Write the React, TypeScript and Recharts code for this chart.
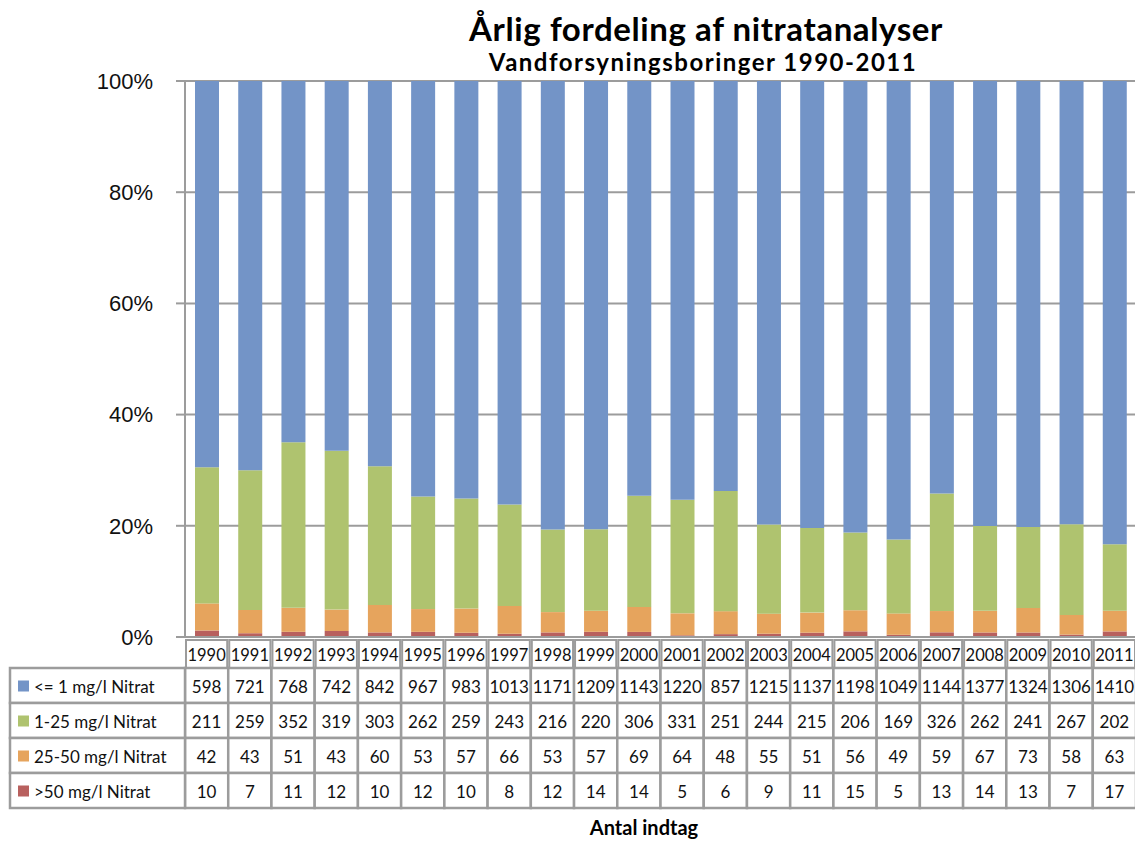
import { BarChart, Bar, XAxis, YAxis, CartesianGrid } from "recharts";

const YEARS = [
  "1990", "1991", "1992", "1993", "1994", "1995", "1996", "1997", "1998", "1999", "2000",
  "2001", "2002", "2003", "2004", "2005", "2006", "2007", "2008", "2009", "2010", "2011",
];
const LE_1 = [598, 721, 768, 742, 842, 967, 983, 1013, 1171, 1209, 1143, 1220, 857, 1215, 1137, 1198, 1049, 1144, 1377, 1324, 1306, 1410];
const R_1_25 = [211, 259, 352, 319, 303, 262, 259, 243, 216, 220, 306, 331, 251, 244, 215, 206, 169, 326, 262, 241, 267, 202];
const R_25_50 = [42, 43, 51, 43, 60, 53, 57, 66, 53, 57, 69, 64, 48, 55, 51, 56, 49, 59, 67, 73, 58, 63];
const GT_50 = [10, 7, 11, 12, 10, 12, 10, 8, 12, 14, 14, 5, 6, 9, 11, 15, 5, 13, 14, 13, 7, 17];
const Y_TICKS = [0, 0.2, 0.4, 0.6, 0.8, 1];

// table row order (top to bottom), stacking order is the reverse
const SERIES = [
  { key: "le1", label: "<= 1 mg/l Nitrat", color: "#7394C7", values: LE_1 },
  { key: "r125", label: "1-25 mg/l Nitrat", color: "#AFC36F", values: R_1_25 },
  { key: "r2550", label: "25-50 mg/l Nitrat", color: "#E6A45D", values: R_25_50 },
  { key: "gt50", label: ">50 mg/l Nitrat", color: "#B8605E", values: GT_50 },
];

const data = YEARS.map((year, i) => {
  const row: Record<string, string | number> = { year };
  SERIES.forEach((s) => (row[s.key] = s.values[i]));
  return row;
});

const W = 1136;
const H = 841;
const PLOT_LEFT = 185;
const PLOT_TOP = 81;
const PLOT_BOTTOM = 637;
const XAXIS_H = 175;
const COL_W = (W - PLOT_LEFT) / YEARS.length;
const YEAR_TOP = 640;
const YEAR_H = 28;
const ROW_TOP = 668;
const ROW_H = 35;
const TABLE_LEFT = 10;
const GRID = "#9c9c9c";
const FONT = "Lato, 'Open Sans', sans-serif";

function TableTick(props: any) {
  const { x, payload } = props;
  const i = payload?.index ?? props.index ?? 0;
  const left = x - COL_W / 2;
  return (
    <g>
      <rect x={left + 1} y={YEAR_TOP} width={COL_W - 2} height={YEAR_H} fill="#fff" stroke={GRID} strokeWidth={2} />
      <text x={x} y={YEAR_TOP + YEAR_H / 2 + 1} textAnchor="middle" dominantBaseline="central" fontSize={16.5} fontFamily={FONT} fill="#111">
        {YEARS[i]}
      </text>
      {SERIES.map((s, r) => (
        <g key={s.key}>
          <rect x={left} y={ROW_TOP + r * ROW_H} width={COL_W} height={ROW_H} fill="#fff" stroke={GRID} strokeWidth={2.5} />
          <text x={x} y={ROW_TOP + r * ROW_H + ROW_H / 2 + 1} textAnchor="middle" dominantBaseline="central" fontSize={17} fontFamily={FONT} fill="#111">
            {s.values[i]}
          </text>
        </g>
      ))}
      {i === 0 &&
        SERIES.map((s, r) => (
          <g key={"lg" + s.key}>
            <rect x={TABLE_LEFT} y={ROW_TOP + r * ROW_H} width={left - TABLE_LEFT} height={ROW_H} fill="#fff" stroke={GRID} strokeWidth={2.5} />
            <rect x={TABLE_LEFT + 8} y={ROW_TOP + r * ROW_H + ROW_H / 2 - 5} width={11} height={11} fill={s.color} />
            <text x={TABLE_LEFT + 24} y={ROW_TOP + r * ROW_H + ROW_H / 2 + 1} dominantBaseline="central" fontSize={17} fontFamily={FONT} fill="#111">
              {s.label}
            </text>
          </g>
        ))}
    </g>
  );
}

export default function App() {
  const stackOrder = [...SERIES].reverse();
  return (
    <div style={{ position: "absolute", left: 0, top: 0, width: 1135, height: H, overflow: "hidden", background: "#fff" }}>
      <div style={{ position: "absolute", left: 356, width: 700, top: 12, textAlign: "center", fontFamily: FONT, fontWeight: 700, fontSize: 33, letterSpacing: 0.6, lineHeight: 1 }}>
        Årlig fordeling af nitratanalyser
      </div>
      <div style={{ position: "absolute", left: 353, width: 700, top: 50, textAlign: "center", fontFamily: FONT, fontWeight: 700, fontSize: 24, letterSpacing: 1.5, lineHeight: 1 }}>
        Vandforsyningsboringer 1990-2011
      </div>
      <BarChart
        width={W}
        height={H}
        data={data}
        stackOffset="expand"
        barSize={24}
        margin={{ top: PLOT_TOP, right: 0, left: 0, bottom: H - PLOT_BOTTOM - XAXIS_H }}
      >
        <CartesianGrid vertical={false} stroke={GRID} strokeWidth={2} />
        <XAxis
          dataKey="year"
          interval={0}
          height={XAXIS_H}
          axisLine={{ stroke: GRID, strokeWidth: 2 }}
          tickLine={false}
          tick={<TableTick />}
        />
        <YAxis
          width={PLOT_LEFT}
          domain={[0, 1]}
          ticks={Y_TICKS}
          tickFormatter={(v: number) => `${Math.round(v * 100)}%`}
          axisLine={{ stroke: GRID, strokeWidth: 2 }}
          tickLine={{ stroke: GRID, strokeWidth: 2 }}
          tickSize={9}
          tickMargin={23}
          tick={{ fill: "#111", fontSize: 22, fontFamily: "'Liberation Sans', Arial, sans-serif" }}
        />
        {stackOrder.map((s) => (
          <Bar key={s.key} dataKey={s.key} stackId="a" fill={s.color} isAnimationActive={false} />
        ))}
      </BarChart>
      <div style={{ position: "absolute", left: 544, width: 200, top: 817, textAlign: "center", fontFamily: FONT, fontWeight: 700, fontSize: 20, lineHeight: 1 }}>
        Antal indtag
      </div>
    </div>
  );
}
